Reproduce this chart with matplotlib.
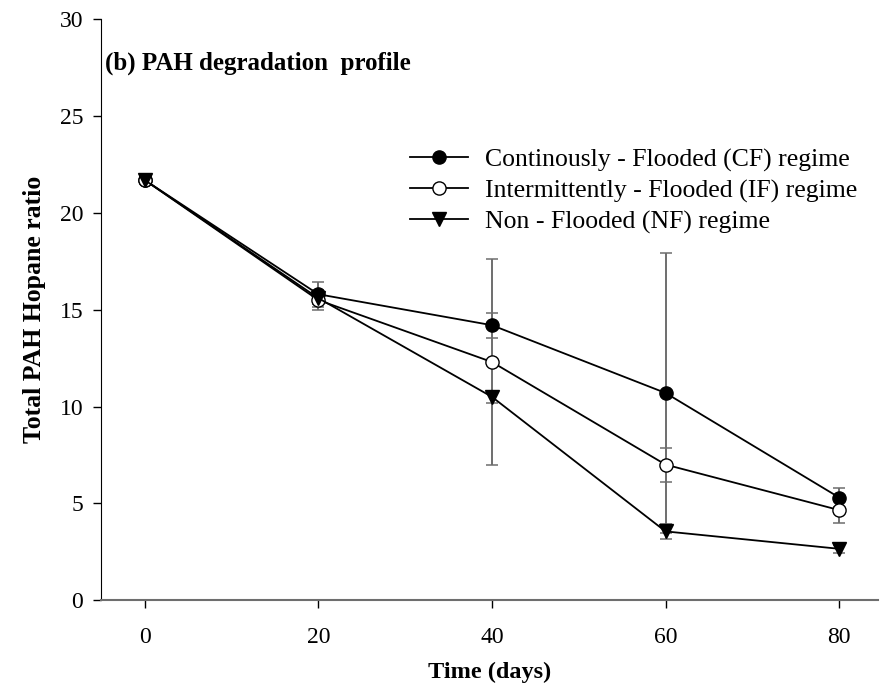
import numpy as np
import matplotlib
matplotlib.use('Agg')
import matplotlib.pyplot as plt

plt.rcParams['font.family'] = ['Liberation Serif', 'DejaVu Serif']

days = [0, 20, 40, 60, 80]

cf_mean = [21.7, 15.8, 14.2, 10.7, 5.3]
cf_err  = [0.15, 0.65, 0.65, 7.25, 0.5]
if_mean = [21.7, 15.5, 12.3, 7.0, 4.65]
if_err  = [0.15, 0.5, 5.3, 0.88, 0.65]
nf_mean = [21.7, 15.6, 10.5, 3.55, 2.65]
nf_err  = [0.15, 0.3, 0.3, 0.37, 0.2]

labels = ['Continously - Flooded (CF) regime',
          'Intermittently - Flooded (IF) regime',
          'Non - Flooded (NF) regime']

fig = plt.figure(figsize=(8.8, 6.89), dpi=100)
ax = fig.add_axes([0.115, 0.129, 0.883, 0.843])

series = [
    (cf_mean, cf_err, dict(marker='o', mfc='black', mec='black', markersize=9.5)),
    (if_mean, if_err, dict(marker='o', mfc='white', mec='black', markersize=9.5)),
    (nf_mean, nf_err, dict(marker='v', mfc='black', mec='black', markersize=9.5)),
]

for (m, e, style), lab in zip(series, labels):
    ax.errorbar(days, m, yerr=e, color='black', ecolor='#6e6e6e',
                elinewidth=1.4, capsize=4, capthick=1.1, linewidth=1.3,
                label=lab, zorder=3, **style)

ax.set_xlim(-5, 84.5)
ax.set_ylim(0, 30)
ax.set_xticks([0, 20, 40, 60, 80])
ax.set_yticks([0, 5, 10, 15, 20, 25, 30])
ax.tick_params(direction='out', length=6, labelsize=17, width=1)
ax.tick_params(axis='x', pad=13)
ax.tick_params(axis='y', pad=7)
ax.spines['top'].set_visible(False)
ax.spines['right'].set_visible(False)
ax.spines['left'].set_color('black')
ax.spines['bottom'].set_color('#6e6e6e')
ax.spines['bottom'].set_linewidth(1.5)

ax.set_xlabel('Time (days)', fontsize=17.5, fontweight='bold', labelpad=10)
ax.set_ylabel('Total PAH Hopane ratio', fontsize=18.5, fontweight='bold', labelpad=10)

ax.text(0.005, 0.925, '(b) PAH degradation  profile', transform=ax.transAxes,
        fontsize=18, fontweight='bold', va='center', ha='left')

handles, labs = ax.get_legend_handles_labels()
handles = [h[0] for h in handles]
ax.legend(handles, labs, loc='upper left', bbox_to_anchor=(0.398, 0.778),
          frameon=False, fontsize=18.5, handlelength=2.25, handletextpad=0.65,
          labelspacing=0.3, borderaxespad=0, borderpad=0)

fig.savefig('out.png', dpi=100)
